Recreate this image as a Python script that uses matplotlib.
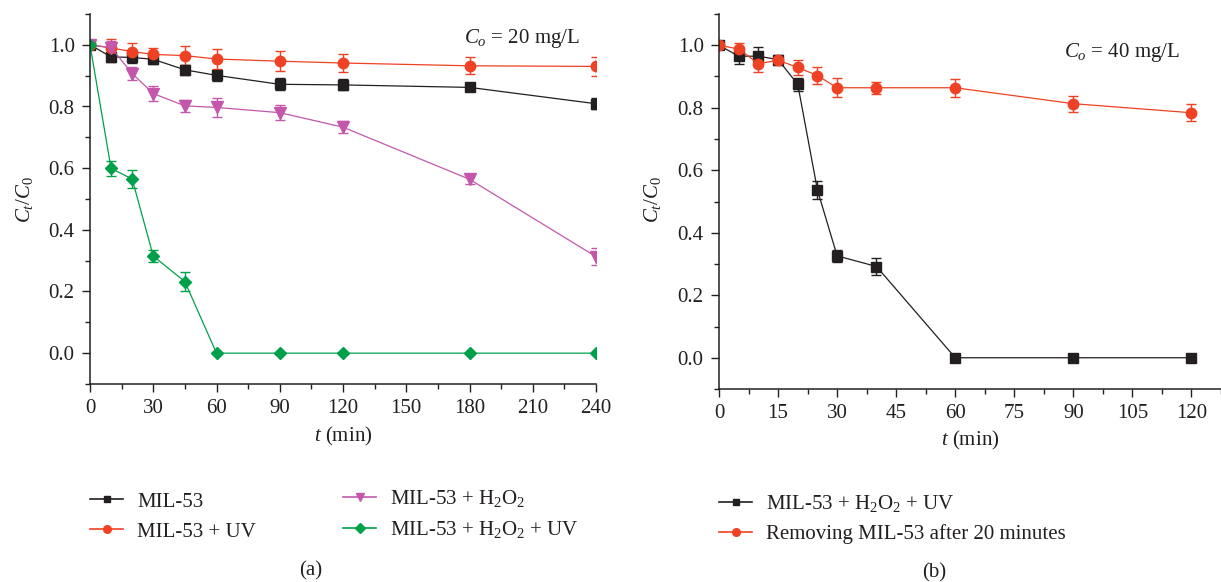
import matplotlib
matplotlib.use("Agg")
import matplotlib.pyplot as plt
from matplotlib.ticker import MultipleLocator
from matplotlib.lines import Line2D

plt.rcParams['font.family'] = ['Liberation Serif', 'DejaVu Serif']
plt.rcParams['mathtext.fontset'] = 'custom'
plt.rcParams['mathtext.rm'] = 'Liberation Serif'
plt.rcParams['mathtext.it'] = 'Liberation Serif:italic'
plt.rcParams['mathtext.bf'] = 'Liberation Serif:bold'

# ---- data (a): Co = 20 mg/L ----
t_a = [0, 10, 20, 30, 45, 60, 90, 120, 180, 240]
mil = [1.0, 0.961, 0.959, 0.953, 0.919, 0.901, 0.872, 0.870, 0.862, 0.809]
mil_err = [0, 0.016, 0.018, 0.016, 0.017, 0.017, 0.02, 0.018, 0.012, 0.018]
mil_uv = [1.0, 0.99, 0.978, 0.969, 0.965, 0.954, 0.947, 0.941, 0.932, 0.930]
mil_uv_err = [0, 0.03, 0.028, 0.02, 0.03, 0.031, 0.032, 0.029, 0.027, 0.031]
mil_h2o2 = [1.0, 0.991, 0.907, 0.842, 0.802, 0.797, 0.780, 0.733, 0.564, 0.313]
mil_h2o2_err = [0, 0.02, 0.02, 0.025, 0.02, 0.03, 0.025, 0.02, 0.015, 0.028]
mil_h2o2_uv = [1.0, 0.599, 0.565, 0.315, 0.232, 0, 0, 0, 0, 0]
mil_h2o2_uv_err = [0, 0.025, 0.03, 0.02, 0.03, 0, 0, 0, 0, 0]

# ---- data (b): Co = 40 mg/L ----
t_b = [0, 5, 10, 15, 20, 25, 30, 40, 60, 90, 120]
full = [1.0, 0.965, 0.965, 0.954, 0.875, 0.537, 0.326, 0.292, 0, 0, 0]
full_err = [0, 0.025, 0.03, 0.015, 0.02, 0.03, 0.02, 0.028, 0, 0, 0]
removed = [1.0, 0.988, 0.941, 0.952, 0.929, 0.903, 0.864, 0.864, 0.864, 0.813, 0.784]
removed_err = [0, 0.02, 0.025, 0.015, 0.025, 0.028, 0.03, 0.02, 0.028, 0.025, 0.027]

BLACK = '#231f20'
RED = '#ef4123'
MAGENTA = '#c457ac'
GREEN = '#00a04b'

FS = 15


# pixel-based placement helpers (reference image is 1221 x 582)
def fx(px):
    return px / 1221


def fy(py):
    return 1 - py / 582


fig = plt.figure(figsize=(12.21, 5.82), dpi=100)
ax1 = fig.add_axes([fx(90), fy(384), 506 / 1221, 370 / 582])
ax2 = fig.add_axes([fx(719), fy(389), 502 / 1221, 375 / 582])


def series(ax, x, y, err, color, marker, ms):
    ax.errorbar(x, y, yerr=err, color=color, marker=marker, ms=ms, lw=0.9,
                elinewidth=1.0, capsize=3.5, capthick=1.0, mec=color, mfc=color)


def style(ax, xmax, xmaj, xmin):
    for s in ['top', 'right']:
        ax.spines[s].set_visible(False)
    for s in ['left', 'bottom']:
        ax.spines[s].set_linewidth(1.1)
        ax.spines[s].set_color(BLACK)
    ax.set_xlim(0, xmax)
    ax.set_ylim(-0.1, 1.1)
    ax.xaxis.set_major_locator(MultipleLocator(xmaj))
    ax.xaxis.set_minor_locator(MultipleLocator(xmin))
    ax.yaxis.set_major_locator(MultipleLocator(0.2))
    ax.yaxis.set_minor_locator(MultipleLocator(0.1))
    ax.tick_params(which='major', direction='out', length=6, width=1.0,
                   color=BLACK, labelsize=FS, labelcolor=BLACK, pad=5)
    ax.tick_params(which='minor', direction='out', length=3.5, width=1.0, color=BLACK)
    ax.set_ylabel('$C_t/C_0$', fontsize=FS, color=BLACK)
    ax.set_xlabel('$t$ (min)', fontsize=FS, color=BLACK)


# (a)
series(ax1, t_a, mil, mil_err, BLACK, 's', 7)
series(ax1, t_a, mil_uv, mil_uv_err, RED, 'o', 7.5)
series(ax1, t_a, mil_h2o2, mil_h2o2_err, MAGENTA, 'v', 8)
series(ax1, t_a, mil_h2o2_uv, mil_h2o2_uv_err, GREEN, 'D', 6.5)
style(ax1, 240, 30, 15)

# (b)
series(ax2, t_b, full, full_err, BLACK, 's', 7)
series(ax2, t_b, removed, removed_err, RED, 'o', 7.5)
style(ax2, 127.5, 15, 7.5)

ax1.yaxis.set_label_coords(fx(35), fy(200), transform=fig.transFigure)
ax2.yaxis.set_label_coords(fx(663), fy(200), transform=fig.transFigure)
ax1.xaxis.set_label_coords(fx(343), fy(425), transform=fig.transFigure)
ax2.xaxis.set_label_coords(fx(970), fy(429), transform=fig.transFigure)

fig.text(fx(522), fy(39), '$C_o$ = 20 mg/L', fontsize=FS, ha='center', va='center', color=BLACK)
fig.text(fx(1122), fy(53), '$C_o$ = 40 mg/L', fontsize=FS, ha='center', va='center', color=BLACK)


def handle(color, marker, ms):
    return Line2D([], [], color=color, marker=marker, ms=ms, lw=1.2, mec=color, mfc=color)


leg_kw = dict(frameon=False, fontsize=FS, loc='upper left', borderpad=0, borderaxespad=0,
              handlelength=1.6, handletextpad=0.65, labelspacing=0.5, labelcolor=BLACK)

fig.legend([handle(BLACK, 's', 5), handle(RED, 'o', 5.5)],
           ['MIL-53', 'MIL-53 + UV'],
           bbox_to_anchor=(fx(90), fy(492)), **leg_kw)
fig.legend([handle(MAGENTA, 'v', 6), handle(GREEN, 'D', 5)],
           ['MIL-53 + H$_2$O$_2$', 'MIL-53 + H$_2$O$_2$ + UV'],
           bbox_to_anchor=(fx(343), fy(488)), **leg_kw)
fig.legend([handle(BLACK, 's', 5), handle(RED, 'o', 5.5)],
           ['MIL-53 + H$_2$O$_2$ + UV', 'Removing MIL-53 after 20 minutes'],
           bbox_to_anchor=(fx(719), fy(493)), **leg_kw)

fig.text(fx(311), fy(571), '(a)', fontsize=FS, ha='center', va='center', color=BLACK)
fig.text(fx(934), fy(573), '(b)', fontsize=FS, ha='center', va='center', color=BLACK)

fig.savefig('out.png', dpi=100)
